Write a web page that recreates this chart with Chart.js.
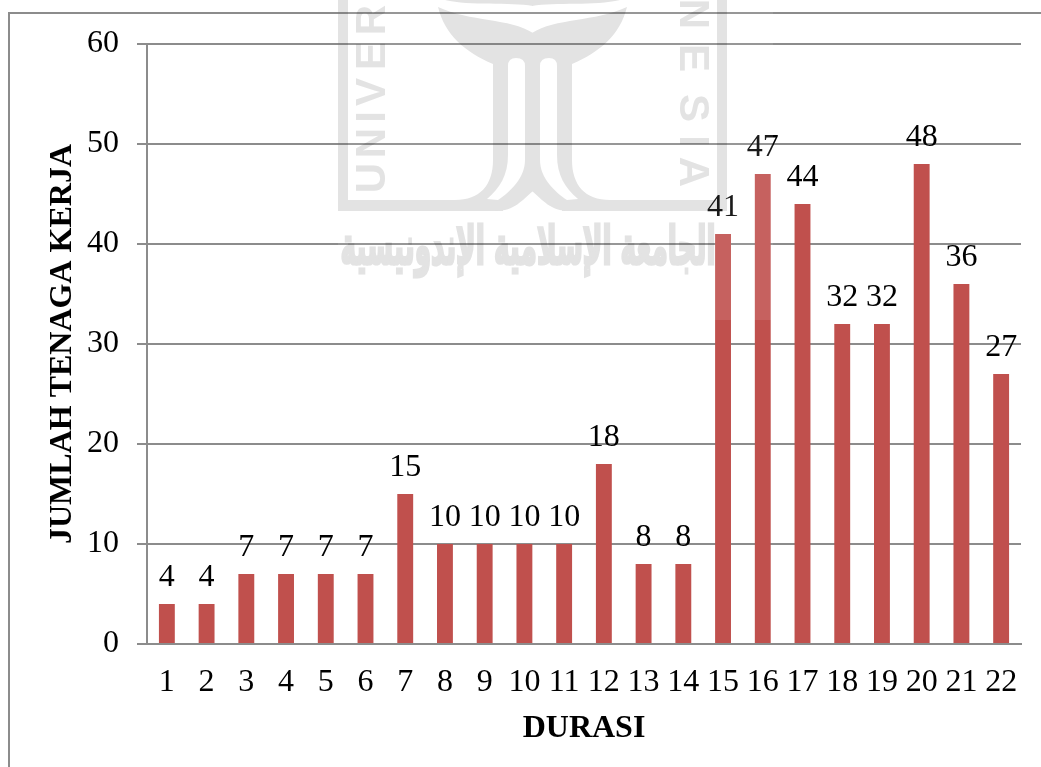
<!DOCTYPE html>
<html>
<head>
<meta charset="utf-8">
<title>Jumlah Tenaga Kerja per Durasi</title>
<script src="https://cdn.jsdelivr.net/npm/chart.js@4"></script>
<style>
  html, body { margin: 0; padding: 0; background: #fff; }
  #wrap { width: 1041px; height: 767px; }
</style>
</head>
<body>
<div id="wrap"><canvas id="durasiChart" width="1041" height="767"></canvas></div>
<script>
const durasi = ['1','2','3','4','5','6','7','8','9','10','11','12','13','14','15','16','17','18','19','20','21','22'];
const tenagaKerja = [4,4,7,7,7,7,15,10,10,10,10,18,8,8,41,47,44,32,32,48,36,27];

const axisGrey = '#8c8c8c';
const barRed = '#c0504d';
const serif = '"Liberation Serif", "Times New Roman", serif';

// white page plus the outer chart border (only top and left are in frame)
const framePlugin = {
  id: 'frame',
  beforeDraw(chart) {
    const ctx = chart.ctx;
    ctx.save();
    ctx.fillStyle = '#fff';
    ctx.fillRect(0, 0, chart.width, chart.height);
    ctx.strokeStyle = axisGrey;
    ctx.lineWidth = 2;
    ctx.beginPath();
    ctx.moveTo(1041, 13);
    ctx.lineTo(9, 13);
    ctx.lineTo(9, 767);
    ctx.stroke();
    ctx.restore();
  }
};

// value above each bar
const valueLabels = {
  id: 'valueLabels',
  afterDatasetsDraw(chart) {
    const ctx = chart.ctx;
    const meta = chart.getDatasetMeta(0);
    ctx.save();
    ctx.font = '32px ' + serif;
    ctx.fillStyle = '#000';
    ctx.textAlign = 'center';
    ctx.textBaseline = 'alphabetic';
    meta.data.forEach((bar, i) => {
      ctx.fillText(tenagaKerja[i], bar.x, bar.y - 18.5);
    });
    ctx.restore();
  }
};

// half of the university emblem, mirrored around its centre line
function emblemHalf(g) {
  // frame side and bottom
  g.fillRect(338, 0, 10, 211);
  g.fillRect(338, 200, 165, 11);
  // bowl, stem and flare
  g.beginPath();
  g.moveTo(438, 7);
  g.bezierCurveTo(470, 22, 510, 18, 533, 33);
  g.lineTo(533, 191);
  g.bezierCurveTo(522, 200, 515, 211, 495, 211);
  g.lineTo(455, 211);
  g.lineTo(455, 200);
  g.bezierCurveTo(480, 200, 493, 185, 493, 160);
  g.lineTo(493, 64);
  g.bezierCurveTo(465, 52, 445, 35, 438, 7);
  g.closePath();
  g.fill();
  // top dome
  g.beginPath();
  g.moveTo(445, 0);
  g.bezierCurveTo(470, 6, 510, 2, 533, 6);
  g.lineTo(533, 0);
  g.closePath();
  g.fill();
}

function emblemSlit(g) {
  g.beginPath();
  g.moveTo(508, 66);
  g.quadraticCurveTo(508, 58, 516, 58);
  g.quadraticCurveTo(525, 58, 525, 66);
  g.lineTo(525, 160);
  g.bezierCurveTo(525, 178, 510, 192, 498, 200);
  g.lineTo(487, 199);
  g.bezierCurveTo(500, 188, 508, 175, 508, 155);
  g.closePath();
  g.fill();
}

function buildWatermark(w, h) {
  const off = document.createElement('canvas');
  off.width = w;
  off.height = h;
  const g = off.getContext('2d');
  g.fillStyle = '#e3e3e3';
  g.strokeStyle = '#e3e3e3';

  emblemHalf(g);
  g.save();
  g.translate(2 * 532.5, 0);
  g.scale(-1, 1);
  emblemHalf(g);
  g.restore();

  g.globalCompositeOperation = 'destination-out';
  emblemSlit(g);
  g.save();
  g.translate(2 * 532.5, 0);
  g.scale(-1, 1);
  emblemSlit(g);
  g.restore();
  g.globalCompositeOperation = 'source-over';

  // rotated lettering along both sides of the emblem
  g.font = 'bold 42px "Liberation Sans", sans-serif';
  g.textAlign = 'center';
  g.textBaseline = 'middle';
  [['U', 178], ['N', 143], ['I', 117], ['V', 92], ['E', 56], ['R', 20]].forEach(([ch, y]) => {
    g.save();
    g.translate(373, y);
    g.rotate(-Math.PI / 2);
    g.fillText(ch, 0, 0);
    g.restore();
  });
  [['N', 14], ['E', 58], ['S', 108], ['I', 141], ['A', 172]].forEach(([ch, y]) => {
    g.save();
    g.translate(692, y);
    g.rotate(Math.PI / 2);
    g.fillText(ch, 0, 0);
    g.restore();
  });

  // calligraphy band under the emblem
  const arabic = 'الجامعة الإسلامية الإندونيسية';
  g.font = 'bold 40px "DejaVu Sans", sans-serif';
  g.direction = 'rtl';
  g.lineWidth = 2.5;
  const tw = g.measureText(arabic).width;
  g.save();
  g.translate(528, 250);
  g.scale(375 / tw, 1.3);
  g.fillText(arabic, 0, 0);
  g.strokeText(arabic, 0, 0);
  g.restore();
  return off;
}

// faint watermark laid over the finished chart
const watermark = {
  id: 'watermark',
  afterDraw(chart) {
    const ctx = chart.ctx;
    ctx.save();
    ctx.fillStyle = 'rgba(255,255,255,0.1)';
    ctx.fillRect(338, 0, 435, 320);
    ctx.globalCompositeOperation = 'multiply';
    ctx.drawImage(buildWatermark(chart.width, chart.height), 0, 0);
    ctx.restore();
  }
};

new Chart(document.getElementById('durasiChart').getContext('2d'), {
  type: 'bar',
  data: {
    labels: durasi,
    datasets: [{
      data: tenagaKerja,
      backgroundColor: barRed,
      borderWidth: 0,
      categoryPercentage: 1,
      barPercentage: 0.4
    }]
  },
  options: {
    responsive: false,
    animation: false,
    layout: { padding: { top: 44, right: 20, bottom: 0, left: 0 } },
    plugins: {
      legend: { display: false },
      title: { display: false },
      tooltip: { enabled: false }
    },
    scales: {
      x: {
        afterFit(scale) { scale.height = 123; },
        grid: { display: false },
        border: { color: axisGrey, width: 2 },
        ticks: {
          color: '#000',
          padding: 15,
          maxRotation: 0,
          autoSkip: false,
          font: { family: serif, size: 32, lineHeight: 1 }
        },
        title: {
          display: true,
          text: 'DURASI',
          color: '#000',
          padding: { top: 0, bottom: 22 },
          font: { family: serif, size: 32, weight: 'bold', lineHeight: 1 }
        }
      },
      y: {
        min: 0,
        max: 60,
        afterFit(scale) { scale.width = 147; },
        grid: { color: axisGrey, lineWidth: 2, tickLength: 10, drawTicks: true },
        border: { color: axisGrey, width: 2 },
        ticks: {
          color: '#000',
          stepSize: 10,
          padding: 18,
          font: { family: serif, size: 32, lineHeight: 1 }
        },
        title: {
          display: true,
          text: 'JUMLAH TENAGA KERJA',
          color: '#000',
          padding: { top: 47, bottom: 0 },
          font: { family: serif, size: 32, weight: 'bold', lineHeight: 1 }
        }
      }
    }
  },
  plugins: [framePlugin, valueLabels, watermark]
});
</script>
</body>
</html>
